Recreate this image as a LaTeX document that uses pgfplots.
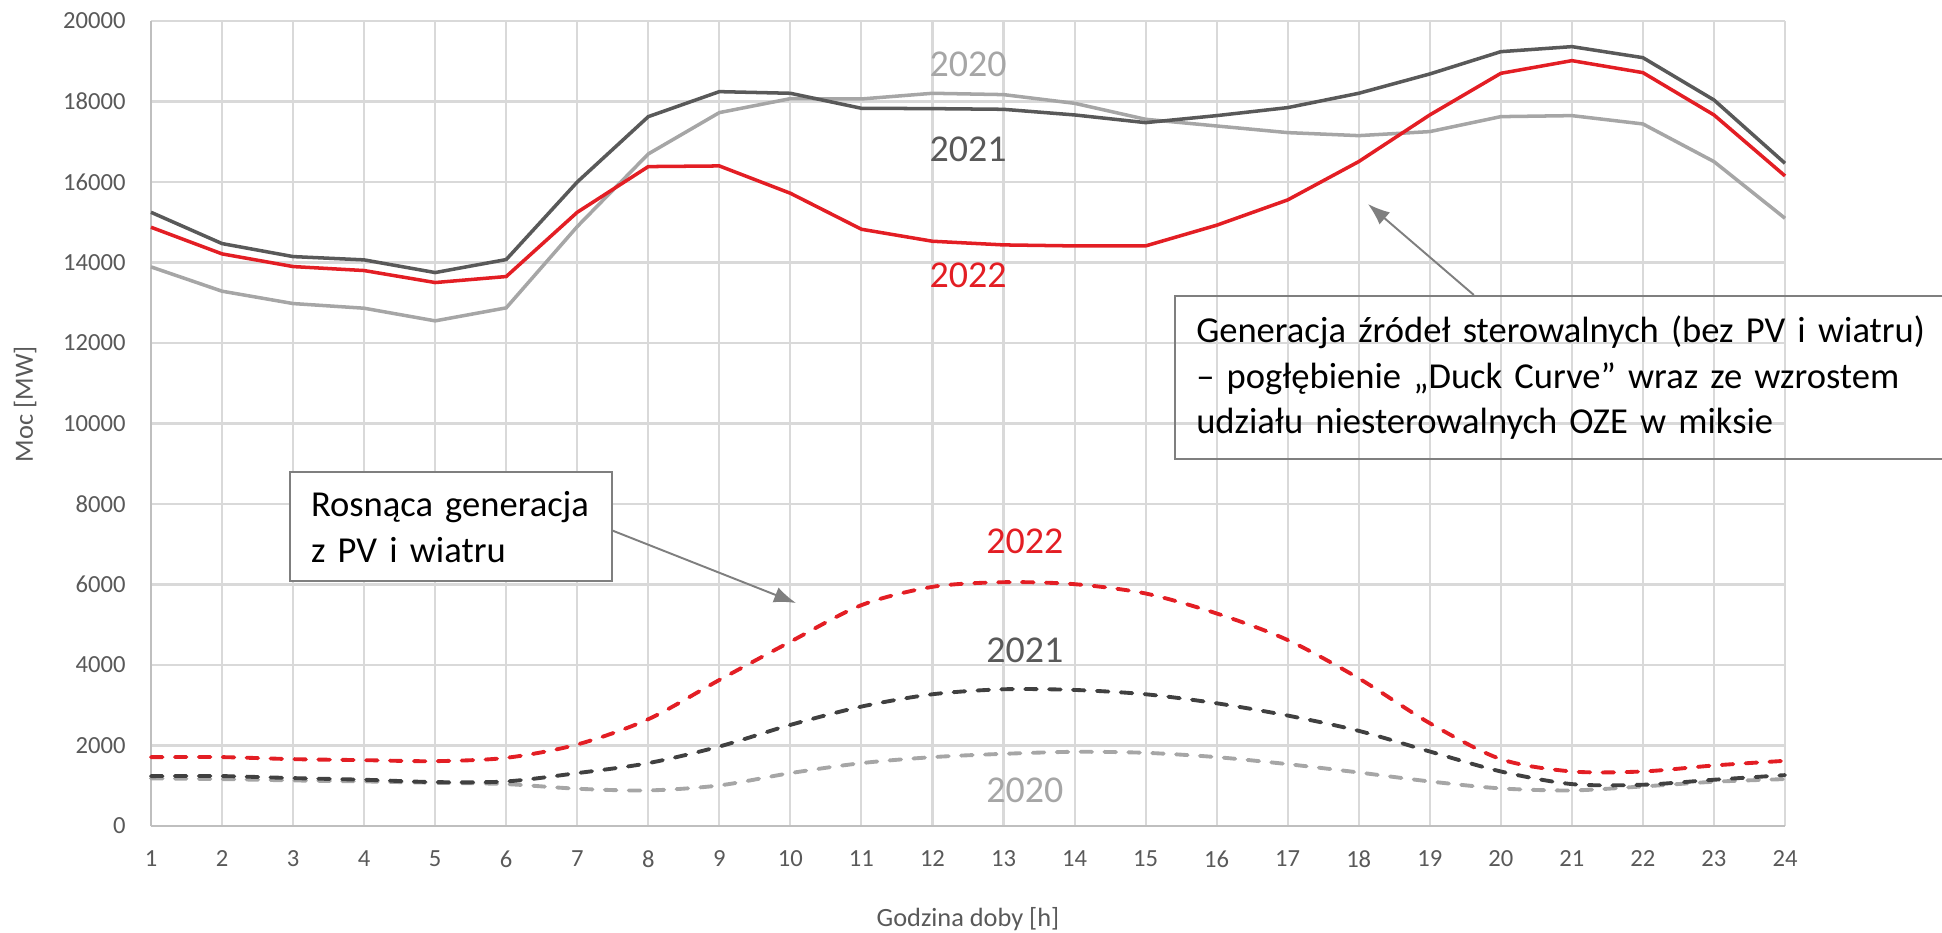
\documentclass[border=0pt]{standalone}
\usepackage{fontspec}
\setmainfont{Carlito}
\usepackage{pgfplots}
\pgfplotsset{compat=1.18}
\usetikzlibrary{arrows.meta}

\definecolor{c20}{HTML}{A6A6A6}
\definecolor{c21}{HTML}{595959}
\definecolor{c21d}{HTML}{404040}
\definecolor{c22}{HTML}{E31E24}
\definecolor{gridc}{HTML}{D9D9D9}
\definecolor{axc}{HTML}{BFBFBF}
\definecolor{txtc}{HTML}{595959}
\definecolor{boxc}{HTML}{7F7F7F}

\begin{document}
\begin{tikzpicture}
\path[use as bounding box] (-1.51,-1.06) rectangle (17.91,8.26);
\begin{axis}[
    scale only axis,
    width=16.34cm, height=8.05cm,
    xmin=1, xmax=24, ymin=0, ymax=20000,
    xtick={1,...,24},
    ytick={0,2000,...,20000},
    scaled y ticks=false,
    grid=major,
    grid style={gridc, line width=0.6pt},
    axis x line*=bottom, axis y line*=left,
    axis line style={axc, line width=0.7pt, -},
    major tick length=0pt,
    tick style={draw=none},
    clip=false,
    /pgf/number format/assume math mode=true,
    /pgf/number format/1000 sep={},
    ticklabel style={font=\fontsize{7}{8}\selectfont, text=txtc},
    xticklabel style={yshift=-0.12cm},
    yticklabel style={xshift=-0.13cm},
    xlabel={Godzina doby [h]},
    ylabel={Moc [MW]},
    every axis x label/.style={at={(axis description cs:0.5,-0.1155)}, anchor=center,
        font=\fontsize{7.5}{9}\selectfont, text=txtc},
    every axis y label/.style={at={(axis description cs:-0.077,0.524)}, rotate=90, anchor=center,
        font=\fontsize{7.5}{9}\selectfont, text=txtc},
    dashed series/.style={line width=1.1pt, line cap=round, dash pattern=on 3.3pt off 3.5pt, smooth},
]

% generacja z PV i wiatru (przerywane)
\addplot[c20, dashed series] coordinates {
 (1,1182) (2,1165) (3,1132) (4,1107) (5,1074) (6,1041) (7,926) (8,884)
 (9,1008) (10,1314) (11,1562) (12,1711) (13,1793) (14,1843) (15,1818) (16,1711)
 (17,1537) (18,1330) (19,1107) (20,934) (21,884) (22,983) (23,1099) (24,1165)};
\addplot[c21d, dashed series] coordinates {
 (1,1240) (2,1240) (3,1190) (4,1149) (5,1091) (6,1107) (7,1314) (8,1562)
 (9,1975) (10,2512) (11,2967) (12,3273) (13,3397) (14,3380) (15,3273) (16,3049)
 (17,2744) (18,2364) (19,1851) (20,1355) (21,1041) (22,1025) (23,1149) (24,1264)};
\addplot[c22, dashed series] coordinates {
 (1,1711) (2,1711) (3,1661) (4,1636) (5,1611) (6,1694) (7,2025) (8,2653)
 (9,3628) (10,4578) (11,5487) (12,5942) (13,6057) (14,6008) (15,5777) (16,5281)
 (17,4620) (18,3669) (19,2554) (20,1661) (21,1355) (22,1355) (23,1504) (24,1620)};

% zrodla sterowalne (ciagle)
\addplot[c20, line width=1pt] coordinates {
 (1,13891) (2,13287) (3,12980) (4,12864) (5,12550) (6,12873) (7,14893) (8,16697)
 (9,17724) (10,18071) (11,18063) (12,18204) (13,18171) (14,17955) (15,17558) (16,17392)
 (17,17227) (18,17152) (19,17252) (20,17624) (21,17649) (22,17442) (23,16507) (24,15099)};
\addplot[c21, line width=1pt] coordinates {
 (1,15248) (2,14470) (3,14147) (4,14065) (5,13750) (6,14073) (7,16000) (8,17624)
 (9,18245) (10,18204) (11,17831) (12,17823) (13,17806) (14,17666) (15,17475) (16,17649)
 (17,17848) (18,18204) (19,18684) (20,19238) (21,19363) (22,19089) (23,18038) (24,16465)};
\addplot[c22, line width=1pt] coordinates {
 (1,14876) (2,14214) (3,13899) (4,13800) (5,13502) (6,13651) (7,15248) (8,16383)
 (9,16399) (10,15720) (11,14826) (12,14528) (13,14437) (14,14412) (15,14412) (16,14926)
 (17,15555) (18,16507) (19,17666) (20,18700) (21,19015) (22,18717) (23,17666) (24,16151)};

% etykiety lat
\node[c20, font=\fontsize{10.8}{12}\selectfont] at (axis cs:12.5,18932) {2020};
\node[c21, font=\fontsize{10.8}{12}\selectfont] at (axis cs:12.5,16820) {2021};
\node[c22, font=\fontsize{10.8}{12}\selectfont] at (axis cs:12.5,13690) {2022};
\node[c22, font=\fontsize{10.8}{12}\selectfont] at (axis cs:13.3,7081) {2022};
\node[c21, font=\fontsize{10.8}{12}\selectfont] at (axis cs:13.3,4373) {2021};
\node[c20, font=\fontsize{10.8}{12}\selectfont] at (axis cs:13.3,894) {2020};

% opisy
\draw[boxc, line width=0.55pt, -{Latex[length=0.22cm,width=0.16cm]}] (axis cs:19.62,13193) -- (axis cs:18.13,15453);
\node[draw=boxc, line width=0.7pt, anchor=north west, minimum width=7.68cm, minimum height=1.63cm,
      text width=7.40cm, inner xsep=0.21cm, align=left, font=\fontsize{10.4}{13}\selectfont]
      at (axis cs:15.40,13193)
      {Generacja źródeł sterowalnych (bez PV i wiatru)\\-- pogłębienie „Duck Curve” wraz ze wzrostem\\udziału niesterowalnych OZE w miksie};

\draw[boxc, line width=0.55pt, -{Latex[length=0.22cm,width=0.16cm]}] (axis cs:7.475,7354) -- (axis cs:10.08,5540);
\node[draw=boxc, fill=white, line width=0.7pt, anchor=north west, minimum width=3.22cm, minimum height=1.09cm,
      text width=2.80cm, inner xsep=0.21cm, align=left, font=\fontsize{10.4}{13}\selectfont]
      at (axis cs:2.94,8820)
      {Rosnąca generacja\\z PV i wiatru};
\end{axis}
\end{tikzpicture}
\end{document}
